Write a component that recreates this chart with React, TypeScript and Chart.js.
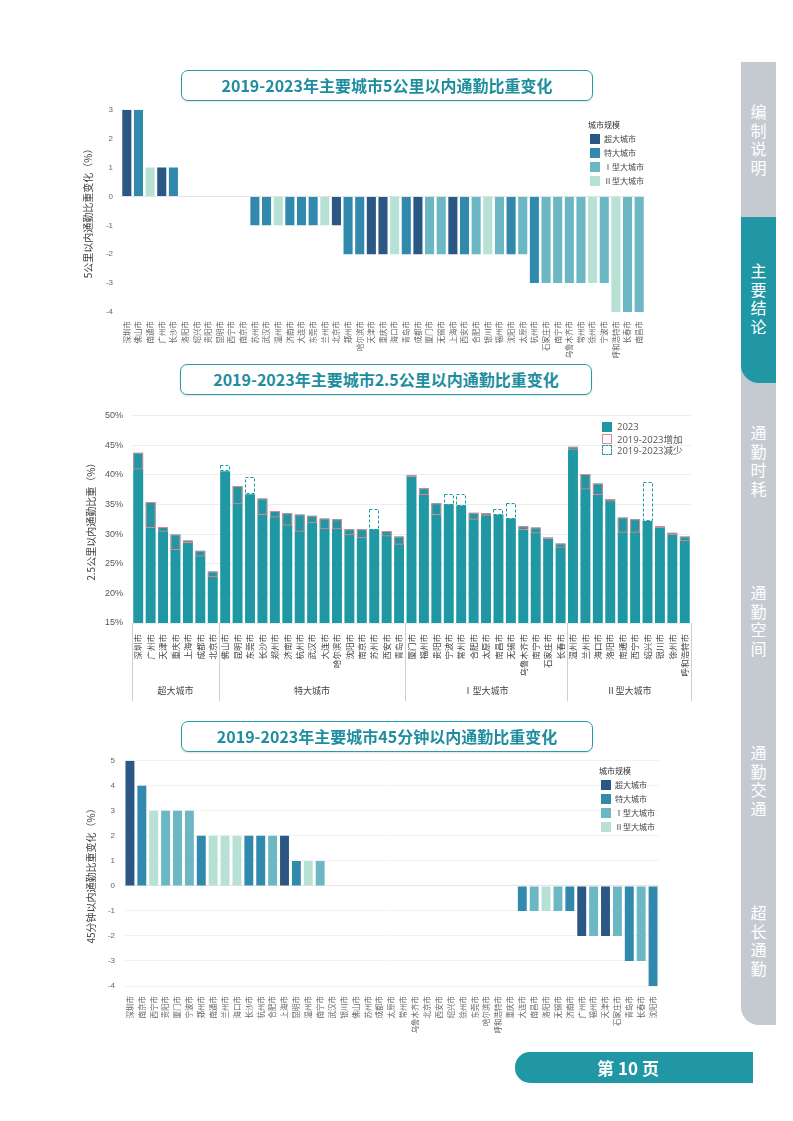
import React, { useEffect, useRef } from "react";
import { Chart, registerables } from "chart.js";

Chart.register(...registerables);

const FONT = '"Open Sans", "Noto Sans CJK SC", sans-serif';
const CJK = '"Noto Sans CJK SC", "Open Sans", sans-serif';

// ---------- city scale classes ----------
const SUPER_CITIES = ["深圳市", "广州市", "天津市", "重庆市", "上海市", "成都市", "北京市"];
const MEGA_CITIES = ["佛山市", "昆明市", "东莞市", "长沙市", "郑州市", "济南市", "杭州市", "武汉市", "大连市", "哈尔滨市", "沈阳市", "南京市", "苏州市", "西安市", "青岛市"];
const TYPE1_CITIES = ["厦门市", "福州市", "贵阳市", "宁波市", "常州市", "合肥市", "太原市", "南昌市", "无锡市", "乌鲁木齐市", "南宁市", "石家庄市", "长春市"];
const TYPE2_CITIES = ["温州市", "兰州市", "海口市", "洛阳市", "南通市", "西宁市", "绍兴市", "银川市", "徐州市", "呼和浩特市"];
const CLASS_LABELS = ["超大城市", "特大城市", "Ⅰ型大城市", "Ⅱ型大城市"];
const CLASS_COLORS = ["#2b5784", "#3189ad", "#6cb7c4", "#b8e1d6"];

const classOf = (c: string) =>
  SUPER_CITIES.includes(c) ? 0 : MEGA_CITIES.includes(c) ? 1 : TYPE1_CITIES.includes(c) ? 2 : 3;

// ---------- chart 1: 5 km ----------
const CITIES_5KM = ["深圳市", "佛山市", "南通市", "广州市", "长沙市", "洛阳市", "绍兴市", "贵阳市", "昆明市", "西宁市", "南京市", "苏州市", "武汉市", "温州市", "济南市", "大连市", "东莞市", "兰州市", "北京市", "郑州市", "哈尔滨市", "天津市", "重庆市", "海口市", "青岛市", "成都市", "厦门市", "无锡市", "上海市", "西安市", "合肥市", "银川市", "福州市", "沈阳市", "太原市", "杭州市", "石家庄市", "南宁市", "乌鲁木齐市", "常州市", "徐州市", "宁波市", "呼和浩特市", "长春市", "南昌市"];
const CHANGE_5KM = [3, 3, 1, 1, 1, 0, 0, 0, 0, 0, 0, -1, -1, -1, -1, -1, -1, -1, -1, -2, -2, -2, -2, -2, -2, -2, -2, -2, -2, -2, -2, -2, -2, -2, -2, -3, -3, -3, -3, -3, -3, -3, -4, -4, -4];
const TICKS_5KM = [-4, 3];

// ---------- chart 2: 2.5 km ----------
const CITIES_25KM = [...SUPER_CITIES, ...MEGA_CITIES, ...TYPE1_CITIES, ...TYPE2_CITIES];
const GROUP_SIZES = [SUPER_CITIES.length, MEGA_CITIES.length, TYPE1_CITIES.length, TYPE2_CITIES.length];
const SHARE_2023 = [
  43.7, 35.4, 31.2, 29.9, 28.9, 27.2, 23.7,
  40.6, 38.1, 36.7, 36.0, 33.9, 33.5, 33.3, 33.1, 32.6, 32.5, 30.8, 30.8, 30.8, 30.5, 29.6,
  39.9, 37.7, 35.2, 35.0, 34.8, 33.6, 33.5, 33.3, 32.6, 31.3, 31.1, 29.4, 28.4,
  44.7, 40.1, 38.5, 35.9, 32.8, 32.5, 32.2, 31.3, 30.2, 29.6,
];
const SHARE_2019 = [
  40.9, 31.0, 30.4, 27.3, 28.5, 26.2, 22.7,
  41.6, 35.0, 39.6, 33.2, 32.8, 31.4, 30.4, 31.8, 30.8, 30.8, 29.8, 29.3, 34.3, 29.6, 28.2,
  39.6, 36.6, 33.2, 36.8, 36.8, 32.4, 33.1, 34.3, 35.3, 30.7, 30.1, 29.1, 27.7,
  44.2, 37.5, 36.6, 35.5, 30.2, 30.2, 38.7, 31.0, 29.8, 28.8,
];
const TICKS_25KM = [15, 50, 5];

// ---------- chart 3: 45 min ----------
const CITIES_45MIN = ["深圳市", "南京市", "西宁市", "贵阳市", "厦门市", "宁波市", "郑州市", "南通市", "兰州市", "海口市", "长沙市", "杭州市", "合肥市", "上海市", "昆明市", "温州市", "南宁市", "武汉市", "银川市", "佛山市", "苏州市", "成都市", "太原市", "常州市", "乌鲁木齐市", "北京市", "西安市", "绍兴市", "徐州市", "东莞市", "哈尔滨市", "呼和浩特市", "重庆市", "大连市", "南昌市", "洛阳市", "无锡市", "济南市", "广州市", "福州市", "天津市", "石家庄市", "青岛市", "长春市", "沈阳市"];
const CHANGE_45MIN = [5, 4, 3, 3, 3, 3, 2, 2, 2, 2, 2, 2, 2, 2, 1, 1, 1, 0, 0, 0, 0, 0, 0, 0, 0, 0, 0, 0, 0, 0, 0, 0, 0, -1, -1, -1, -1, -1, -2, -2, -2, -2, -3, -3, -4];
const TICKS_45MIN = [-4, 5];

const TEAL = "#1f98a4";
const PINK = "#e8828e";
const TICK_COLOR = "#666666";

// dashed outline for decreases, drawn on the bar elements' own geometry
const dashedBoxPlugin = {
  id: "dashedBox",
  afterDatasetsDraw(chart: any) {
    const idx = chart.data.datasets.findIndex((d: any) => d.label === "2019-2023减少");
    if (idx < 0) return;
    const meta = chart.getDatasetMeta(idx);
    const data = chart.data.datasets[idx].data;
    const ctx = chart.ctx;
    ctx.save();
    ctx.setLineDash([3, 2]);
    ctx.strokeStyle = TEAL;
    ctx.lineWidth = 1;
    meta.data.forEach((el: any, i: number) => {
      if (data[i] == null) return;
      const { x, y, base, width } = el.getProps(["x", "y", "base", "width"], true);
      const left = Math.round(x - width / 2) + 0.5;
      const top = Math.round(Math.min(y, base)) + 0.5;
      const h = Math.round(Math.abs(base - y)) - 1;
      ctx.strokeRect(left, top, Math.round(width) - 1, h);
    });
    ctx.restore();
  },
};

// category group labels below the x axis of chart 2
const groupPlugin = {
  id: "groupLabels",
  afterDraw(chart: any) {
    const xs = chart.scales.x;
    const area = chart.chartArea;
    const ctx = chart.ctx;
    const step = xs.getPixelForValue(1) - xs.getPixelForValue(0);
    const bounds: number[] = [0];
    GROUP_SIZES.forEach((s) => bounds.push(bounds[bounds.length - 1] + s));
    ctx.save();
    ctx.strokeStyle = "#cfcfcf";
    ctx.lineWidth = 1;
    const bottom = chart.height - 2;
    bounds.forEach((b) => {
      const px = Math.round(xs.getPixelForValue(b) - step / 2) + 0.5;
      ctx.beginPath();
      ctx.moveTo(px, area.bottom);
      ctx.lineTo(px, bottom);
      ctx.stroke();
    });
    ctx.fillStyle = "#444";
    ctx.font = `9px ${CJK}`;
    ctx.textAlign = "center";
    ctx.textBaseline = "middle";
    for (let g = 0; g < GROUP_SIZES.length; g++) {
      const a = xs.getPixelForValue(bounds[g]) - step / 2;
      const b = xs.getPixelForValue(bounds[g + 1]) - step / 2;
      ctx.fillText(CLASS_LABELS[g], (a + b) / 2, chart.height - 12);
    }
    ctx.restore();
  },
};

function useChart(config: () => any) {
  const ref = useRef<HTMLCanvasElement>(null);
  useEffect(() => {
    const chart = new Chart(ref.current as HTMLCanvasElement, config());
    return () => chart.destroy();
  }, []);
  return ref;
}

const baseOptions = {
  responsive: false,
  animation: false as const,
  plugins: { legend: { display: false }, tooltip: { enabled: false } },
};

function Chart5km() {
  const ref = useChart(() => ({
    type: "bar",
    data: {
      labels: CITIES_5KM,
      datasets: [
        {
          label: "5公里以内通勤比重变化",
          data: CHANGE_5KM,
          backgroundColor: CITIES_5KM.map((c) => CLASS_COLORS[classOf(c)]),
          barPercentage: 0.78,
          categoryPercentage: 1,
        },
      ],
    },
    options: {
      ...baseOptions,
      layout: { padding: { top: 5, right: 30, left: 0, bottom: 0 } },
      scales: {
        x: {
          grid: { display: false },
          border: { display: false },
          ticks: { autoSkip: false, maxRotation: 90, minRotation: 90, padding: 1, color: TICK_COLOR, font: { size: 7.5, family: CJK } },
          afterFit: (s: any) => { s.height = 50; },
        },
        y: {
          min: TICKS_5KM[0],
          max: TICKS_5KM[1],
          ticks: { stepSize: 1, padding: 8, color: TICK_COLOR, font: { size: 8 } },
          grid: { drawTicks: false, color: (c: any) => (c.tick && c.tick.value === 0 ? "#e2e2e2" : "rgba(0,0,0,0)") },
          border: { display: false },
          title: { display: true, text: "5公里以内通勤比重变化（%）", color: "#404040", font: { size: 10, family: CJK }, padding: { top: 12, bottom: 0 } },
          afterFit: (s: any) => { s.width = 51; },
        },
      },
    },
  }));
  return <canvas ref={ref} width={605} height={265} style={{ position: "absolute", left: 70, top: 97 }} />;
}

function Chart25km() {
  const ref = useChart(() => ({
    type: "bar",
    data: {
      labels: CITIES_25KM,
      datasets: [
        {
          label: "2023",
          data: SHARE_2023,
          backgroundColor: TEAL,
          barPercentage: 0.8,
          categoryPercentage: 1,
          grouped: false,
          order: 2,
        },
        {
          label: "2019-2023增加",
          data: SHARE_2023.map((v, i) => (v > SHARE_2019[i] ? [SHARE_2019[i], v] : null)),
          backgroundColor: "rgba(0,0,0,0)",
          borderColor: PINK,
          borderWidth: 1,
          borderSkipped: false,
          barPercentage: 0.8,
          categoryPercentage: 1,
          grouped: false,
          order: 1,
        },
        {
          label: "2019-2023减少",
          data: SHARE_2023.map((v, i) => (v < SHARE_2019[i] ? [v, SHARE_2019[i]] : null)),
          backgroundColor: "rgba(0,0,0,0)",
          borderWidth: 0,
          barPercentage: 0.8,
          categoryPercentage: 1,
          grouped: false,
          order: 0,
        },
      ],
    },
    options: {
      ...baseOptions,
      layout: { padding: { top: 5, right: 10, left: 0, bottom: 0 } },
      scales: {
        x: {
          grid: { display: false },
          border: { display: false },
          ticks: { autoSkip: false, maxRotation: 90, minRotation: 90, padding: 3, color: "#444", font: { size: 8.5, family: CJK } },
          afterFit: (s: any) => { s.height = 80; },
        },
        y: {
          min: TICKS_25KM[0],
          max: TICKS_25KM[1],
          ticks: { stepSize: TICKS_25KM[2], padding: 9, color: "#555", font: { size: 9 }, callback: (v: any) => `${v}%` },
          grid: { drawTicks: false, color: "#ececec" },
          border: { display: false },
          title: { display: true, text: "2.5公里以内通勤比重（%）", color: "#404040", font: { size: 10, family: CJK }, padding: { top: 15, bottom: 0 } },
          afterFit: (s: any) => { s.width = 62; },
        },
      },
    },
    plugins: [dashedBoxPlugin, groupPlugin],
  }));
  return <canvas ref={ref} width={631} height={302} style={{ position: "absolute", left: 70, top: 401 }} />;
}

function Chart45min() {
  const ref = useChart(() => ({
    type: "bar",
    data: {
      labels: CITIES_45MIN,
      datasets: [
        {
          label: "45分钟以内通勤比重变化",
          data: CHANGE_45MIN,
          backgroundColor: CITIES_45MIN.map((c) => CLASS_COLORS[classOf(c)]),
          barPercentage: 0.75,
          categoryPercentage: 1,
        },
      ],
    },
    options: {
      ...baseOptions,
      layout: { padding: { top: 5, right: 20, left: 0, bottom: 0 } },
      scales: {
        x: {
          grid: { display: false },
          border: { display: false },
          ticks: { autoSkip: false, maxRotation: 90, minRotation: 90, padding: 2, color: TICK_COLOR, font: { size: 7.5, family: CJK } },
          afterFit: (s: any) => { s.height = 68; },
        },
        y: {
          min: TICKS_45MIN[0],
          max: TICKS_45MIN[1],
          ticks: { stepSize: 1, padding: 9, color: TICK_COLOR, font: { size: 8 } },
          grid: { drawTicks: false, color: (c: any) => (c.tick && c.tick.value === 0 ? "#e6e6e6" : "#f2f2f2") },
          border: { display: false },
          title: { display: true, text: "45分钟以内通勤比重变化（%）", color: "#404040", font: { size: 10, family: CJK }, padding: { top: 15, bottom: 0 } },
          afterFit: (s: any) => { s.width = 54; },
        },
      },
    },
  }));
  return <canvas ref={ref} width={609} height={307} style={{ position: "absolute", left: 70, top: 747 }} />;
}

function TitleBox({ left, top, text }: { left: number; top: number; text: string }) {
  return (
    <div
      style={{
        position: "absolute",
        left,
        top,
        width: 412,
        height: 31,
        boxSizing: "border-box",
        border: "1.5px solid #2a9aaa",
        borderRadius: 7,
        background: "#fff",
        boxShadow: "0 1px 2px rgba(0,0,0,0.12)",
        color: "#1e8e9e",
        fontFamily: CJK,
        fontWeight: 700,
        fontSize: 16,
        lineHeight: "28px",
        textAlign: "center",
      }}
    >
      {text}
    </div>
  );
}

function ClassLegend({ left, top }: { left: number; top: number }) {
  return (
    <div style={{ position: "absolute", left, top, fontFamily: CJK, fontSize: 8, color: "#444", lineHeight: "14px" }}>
      <div style={{ marginLeft: -2, color: "#333" }}>城市规模</div>
      {CLASS_LABELS.map((l, i) => (
        <div key={l} style={{ display: "flex", alignItems: "center", height: 14 }}>
          <span style={{ display: "inline-block", width: 10, height: 10, background: CLASS_COLORS[i], marginRight: 4 }} />
          <span>{l}</span>
        </div>
      ))}
    </div>
  );
}

function ShareLegend() {
  const items = [
    { label: "2023", box: { background: TEAL } },
    { label: "2019-2023增加", box: { border: `1px solid ${PINK}`, background: "#fff" } },
    { label: "2019-2023减少", box: { border: `1px dashed ${TEAL}`, background: "#fff" } },
  ];
  return (
    <div style={{ position: "absolute", left: 602, top: 421, fontFamily: FONT, fontSize: 9.5, color: "#555" }}>
      {items.map((it) => (
        <div key={it.label} style={{ display: "flex", alignItems: "center", height: 11.7 }}>
          <span style={{ display: "inline-block", width: 10, height: 10, boxSizing: "border-box", marginRight: 5, ...it.box }} />
          <span>{it.label}</span>
        </div>
      ))}
    </div>
  );
}

const NAV_ITEMS = ["编制说明", "主要结论", "通勤时耗", "通勤空间", "通勤交通", "超长通勤"];
const NAV_CENTERS = [139, 298, 460, 620, 780, 940];

function SideNav() {
  return (
    <>
      <div style={{ position: "absolute", left: 741, top: 62, width: 35, height: 963, background: "#c5cad1", borderBottomLeftRadius: 18 }} />
      <div style={{ position: "absolute", left: 741, top: 217, width: 35, height: 166, background: "#2196a4", borderBottomLeftRadius: 18 }} />
      {NAV_ITEMS.map((t, i) => (
        <div
          key={t}
          style={{
            position: "absolute",
            left: 741,
            width: 35,
            top: NAV_CENTERS[i] - 38,
            height: 76,
            color: "#fff",
            fontFamily: CJK,
            fontSize: 16,
            lineHeight: "18.5px",
            textAlign: "center",
            display: "flex",
            flexDirection: "column",
            justifyContent: "center",
          }}
        >
          {t.split("").map((ch, k) => (
            <div key={k}>{ch}</div>
          ))}
        </div>
      ))}
    </>
  );
}

function PageTag() {
  return (
    <div
      style={{
        position: "absolute",
        left: 515,
        top: 1052,
        width: 238,
        height: 31,
        background: "#2196a4",
        borderTopLeftRadius: 15,
        borderBottomLeftRadius: 15,
        color: "#fff",
        fontFamily: CJK,
        fontWeight: 700,
        fontSize: 17,
        lineHeight: "31px",
        textAlign: "center",
        paddingRight: 12,
        boxSizing: "border-box",
      }}
    >
      第 10 页
    </div>
  );
}

export default function App() {
  return (
    <div style={{ position: "absolute", left: 0, top: 0, width: 793, height: 1121, background: "#fff", overflow: "hidden", fontFamily: FONT }}>
      <Chart5km />
      <Chart25km />
      <Chart45min />
      <TitleBox left={181} top={70} text="2019-2023年主要城市5公里以内通勤比重变化" />
      <TitleBox left={180} top={364} text="2019-2023年主要城市2.5公里以内通勤比重变化" />
      <TitleBox left={181} top={721} text="2019-2023年主要城市45分钟以内通勤比重变化" />
      <ClassLegend left={590} top={118} />
      <ShareLegend />
      <ClassLegend left={601} top={764} />
      <SideNav />
      <PageTag />
    </div>
  );
}
